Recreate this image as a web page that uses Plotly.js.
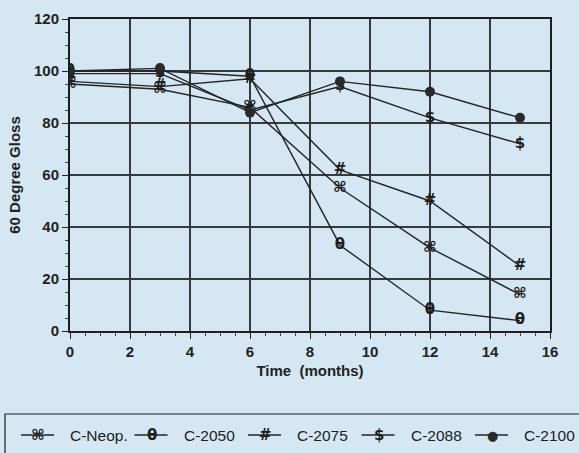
<!DOCTYPE html>
<html>
<head>
<meta charset="utf-8">
<script src="https://cdn.plot.ly/plotly-3.0.1.min.js"></script>
<style>
html,body{margin:0;padding:0;background:#d5e7f2;}
#chart{width:579px;height:453px;}
</style>
</head>
<body>
<div id="chart"></div>
<script>
const months = [0, 3, 6, 9, 12, 15];
const seriesNames = ["C-Neop.", "C-2050", "C-2075", "C-2088", "C-2100"];
const cNeop = [95, 93, 86, 55, 32, 14];
const c2050 = [100, 100, 98, 33, 8, 4];
const c2075 = [96, 94, 97, 62, 50, 25];
const c2088 = [99, 99, 85, 94, 82, 72];
const c2100 = [100, 101, 84, 96, 92, 82];
const symbols = ["⌘", "θ", "#", "$", "●"];

const allValues = [cNeop, c2050, c2075, c2088, c2100];
const lineColor = "#242424";
const symFont = {family: "DejaVu Sans, Liberation Sans", size: 15, color: "#1e1e1e", weight: "bold"};

const traces = allValues.map((vals, i) => {
  const t = {
    x: months, y: vals, name: seriesNames[i], type: "scatter",
    line: {color: lineColor, width: 1.4},
    showlegend: false
  };
  if (i < 4) {
    t.mode = "lines+text";
    t.text = months.map(() => symbols[i]);
    t.textposition = "middle center";
    t.textfont = symFont;
  } else {
    t.mode = "lines+markers";
    t.marker = {symbol: "circle", size: 10, color: "#2a2a2a"};
  }
  return t;
});

// plot-area geometry (pixels) used to place the hand-made legend
const W = 579, H = 453;
const M = {l: 70, r: 29, t: 19, b: 122};
const pw = W - M.l - M.r, ph = H - M.t - M.b;
const px = x => (x - M.l) / pw;
const py = y => (H - M.b - y) / ph;

const shapes = [{
  type: "rect", xref: "paper", yref: "paper",
  x0: px(5), x1: px(590), y0: py(414), y1: py(470),
  line: {color: "#1e1e1e", width: 1.2}, layer: "above"
}];
const annotations = [];
const legY = 435;
seriesNames.forEach((name, i) => {
  const ts = 68 + 113.5 * i;
  shapes.push({
    type: "line", xref: "paper", yref: "paper",
    x0: px(ts - 47), x1: px(ts - 14), y0: py(legY), y1: py(legY),
    line: {color: lineColor, width: 1.4}
  });
  annotations.push({
    xref: "paper", yref: "paper", x: px(ts - 30), y: py(legY),
    text: symbols[i], showarrow: false, xanchor: "center", yanchor: "middle",
    font: i < 4 ? symFont : {family: "DejaVu Sans", size: 13, color: "#2a2a2a"}
  });
  annotations.push({
    xref: "paper", yref: "paper", x: px(ts), y: py(legY),
    text: name, showarrow: false, xanchor: "left", yanchor: "middle",
    font: {family: "Liberation Sans, Arial, sans-serif", size: 15.5, color: "#1e1e1e"}
  });
});

const layout = {
  width: W, height: H,
  paper_bgcolor: "#d5e7f2", plot_bgcolor: "#d5e7f2",
  margin: M,
  font: {family: "Liberation Sans, Arial, sans-serif", size: 15, color: "#222"},
  showlegend: false,
  xaxis: {
    range: [0, 16], dtick: 2, tick0: 0,
    showgrid: true, gridcolor: "#3a3a3a", gridwidth: 1.1,
    showline: true, linecolor: "#1e1e1e", linewidth: 2, mirror: true,
    ticks: "outside", ticklen: 6, tickcolor: "#222",
    minor: {dtick: 0.5, ticks: "outside", ticklen: 3, tickcolor: "#444", showgrid: false},
    zeroline: false,
    tickfont: {size: 15, color: "#222", weight: "bold"},
    title: {text: "Time  (months)", font: {size: 15, weight: "bold", color: "#222"}, standoff: 6}
  },
  yaxis: {
    range: [0, 120], dtick: 20, tick0: 0,
    showgrid: true, gridcolor: "#3a3a3a", gridwidth: 1.1,
    showline: true, linecolor: "#1e1e1e", linewidth: 2, mirror: true,
    ticks: "outside", ticklen: 6, tickcolor: "#222",
    minor: {dtick: 5, ticks: "outside", ticklen: 3, tickcolor: "#444", showgrid: false},
    zeroline: false,
    tickfont: {size: 15, color: "#222", weight: "bold"},
    title: {text: "60 Degree Gloss", font: {size: 15, weight: "bold", color: "#222"}, standoff: 10}
  },
  shapes: shapes,
  annotations: annotations
};

Plotly.newPlot("chart", traces, layout, {displayModeBar: false, staticPlot: true});
</script>
</body>
</html>
